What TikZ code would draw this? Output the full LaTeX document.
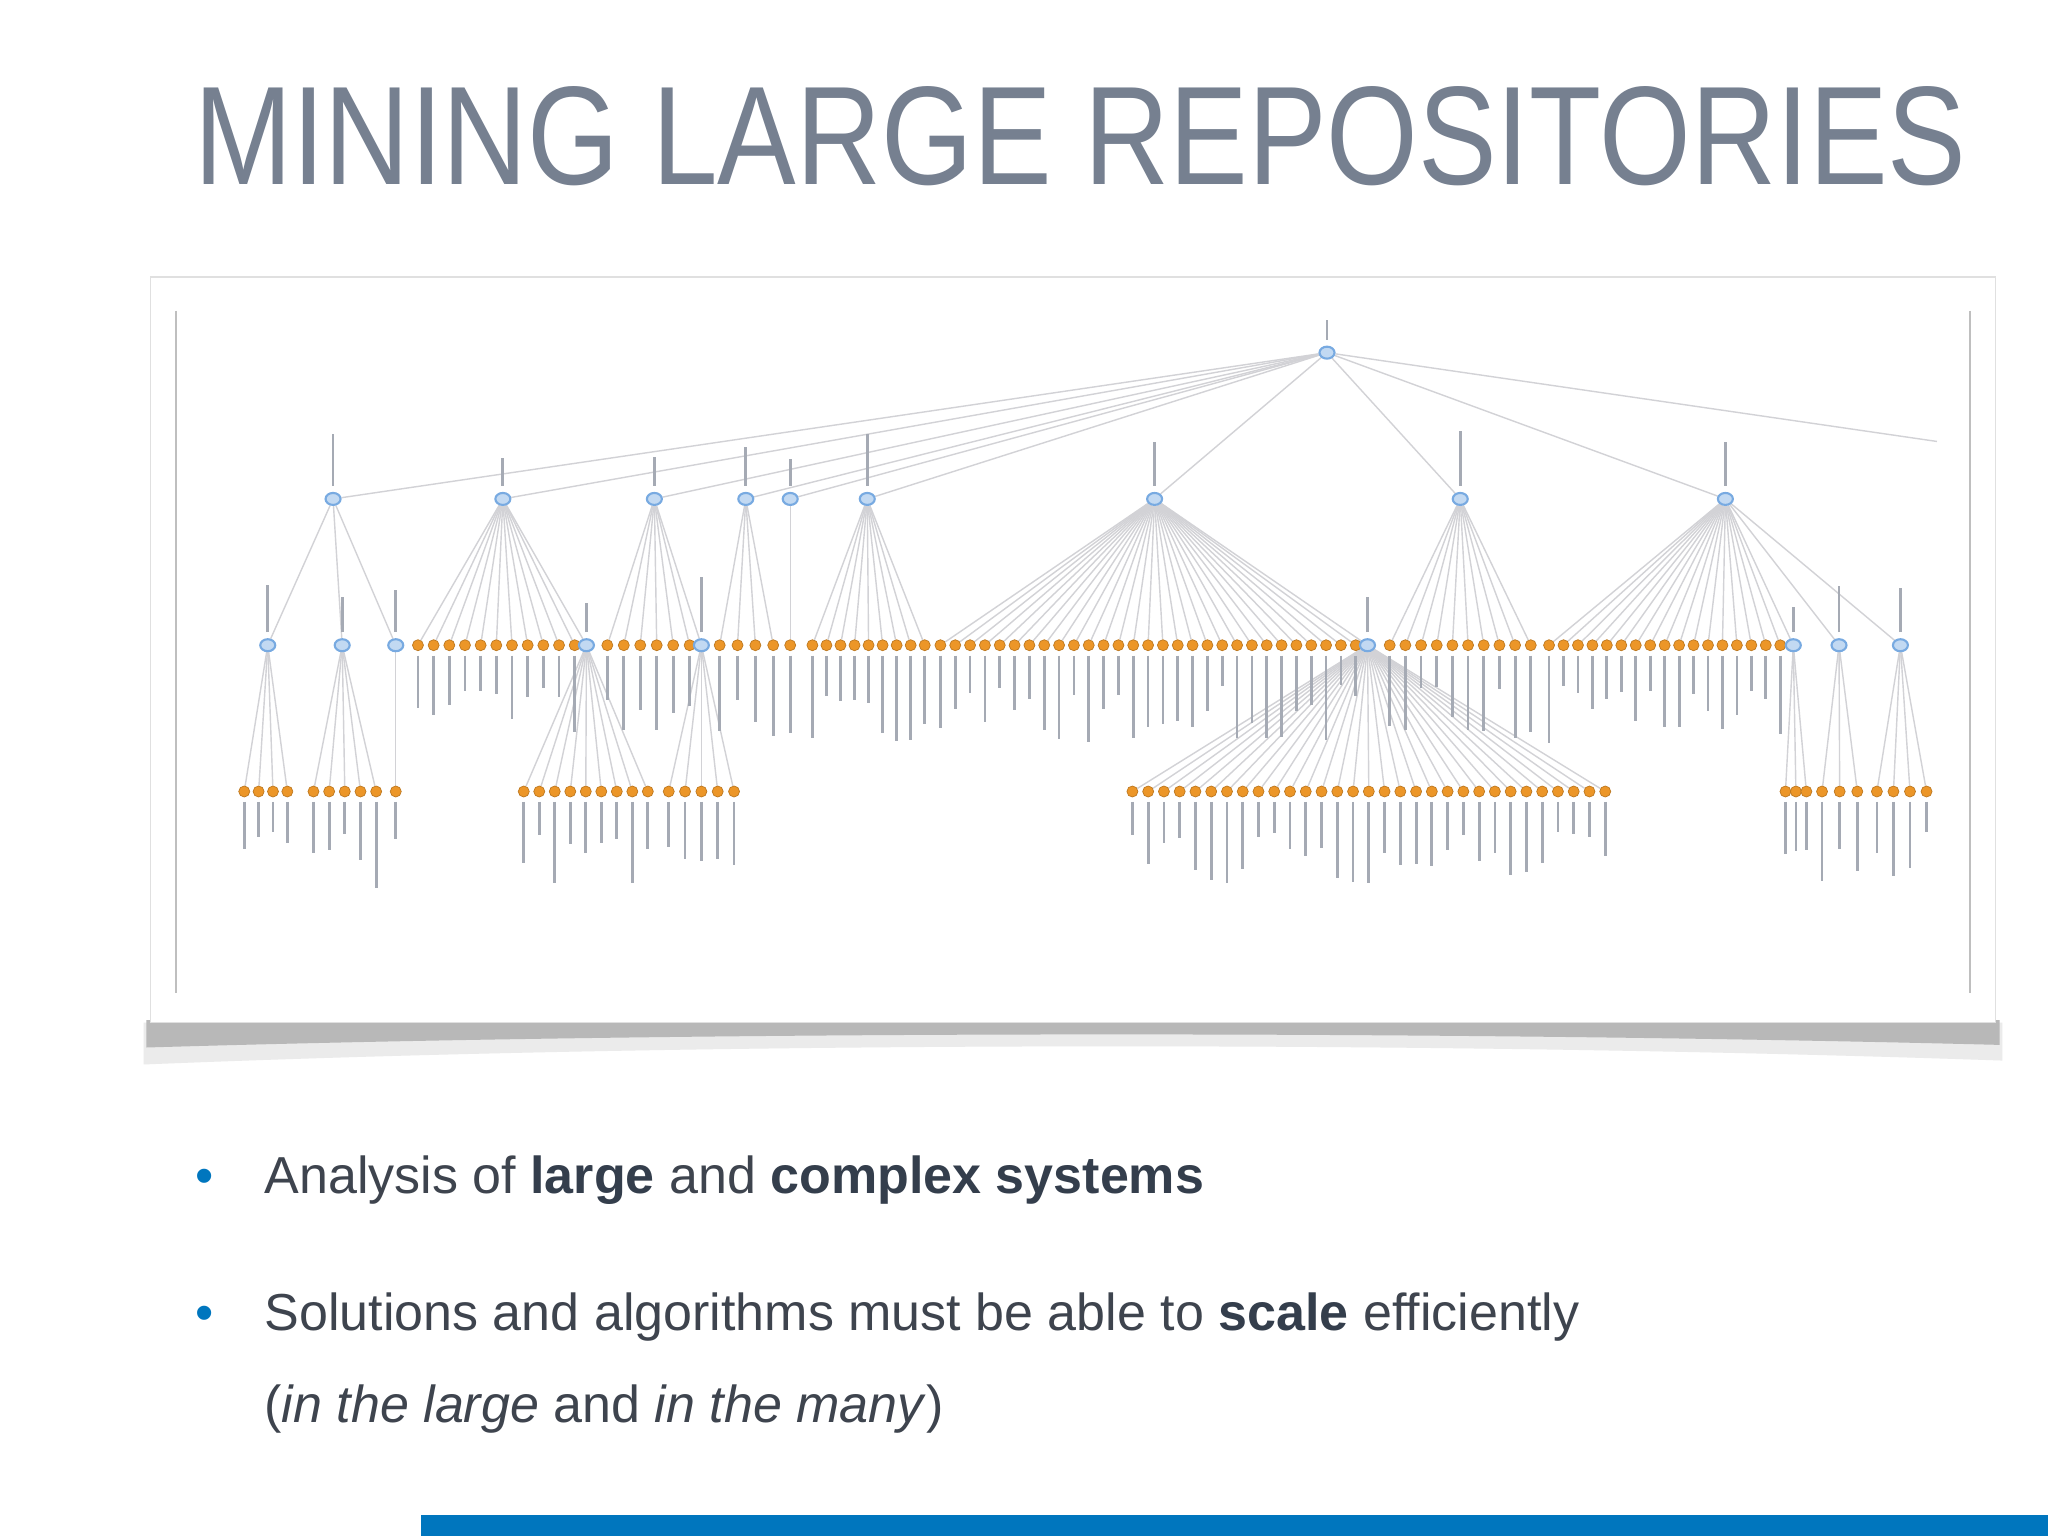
\documentclass[tikz,border=0pt]{standalone}
\usepackage{fontspec}
\setmainfont{Liberation Sans}
\usetikzlibrary{backgrounds,shapes.geometric}
\pgfdeclarelayer{edges}
\pgfsetlayers{background,edges,main}
\definecolor{titlegray}{RGB}{118,128,144}
\definecolor{txtgray}{RGB}{62,68,78}
\definecolor{boldgray}{RGB}{52,62,76}
\definecolor{kblue}{RGB}{0,118,190}
\definecolor{edgegray}{RGB}{210,210,214}
\definecolor{lblgray}{RGB}{165,170,180}
\definecolor{dotorange}{RGB}{236,150,40}
\definecolor{nodeblue}{RGB}{120,170,225}
\tikzset{
  odot/.style={circle,fill=dotorange,draw=dotorange!80!black,line width=0.2pt,inner sep=0pt,minimum size=0.11cm},
  bnode/.style={ellipse,fill=nodeblue!45,draw=nodeblue,line width=0.6pt,inner sep=0pt,minimum width=0.15cm,minimum height=0.12cm},
  edge/.style={draw=edgegray,line width=0.4pt},
  lbl/.style={draw=lblgray,line width=0.8pt},
}
\pgfmathsetseed{7}
\newcommand\myfan[6]{%
  \foreach \i in {1,...,#5}{%
    \pgfmathsetmacro\xx{#3+(\i-1)*(#4-#3)/max(#5-1,1)}
    \node[odot] (#2-\i) at (\xx,#6) {};
    \begin{pgfonlayer}{edges}\draw[edge] (#1) -- (#2-\i);\end{pgfonlayer}
    \pgfmathsetmacro\LL{22+rnd*45}
    \draw[lbl] (\xx,#6+8) -- (\xx,#6+8+\LL);
  }}
\newcommand\mybn[4]{%
  \node[bnode] (#1) at (#2,#3) {};
  \begin{pgfonlayer}{edges}\draw[edge] (#4) -- (#1);\end{pgfonlayer}
  \pgfmathsetmacro\LL{18+rnd*25}
  \draw[lbl] (#2,#3-10) -- (#2,#3-10-\LL);}
\begin{document}
\begin{tikzpicture}[x=0.01306cm,y=-0.01306cm]
\useasboundingbox (0,0) rectangle (1568,1176);
\begin{pgfonlayer}{background}
\fill[white] (0,0) rectangle (1568,1176);
\fill[black!8] (110,783) -- (1533,783) -- (1533,812) .. controls (1100,797) and (550,797) .. (110,815) -- cycle;
\fill[black!28] (112,781) -- (1531,781) -- (1531,800) .. controls (1100,789) and (550,789) .. (112,802) -- cycle;
\filldraw[fill=white,draw=black!12] (115,212) rectangle (1528,783);
\draw[black!25,line width=0.6pt] (135,238) -- (135,760);
\draw[black!25,line width=0.6pt] (1508,238) -- (1508,760);
\end{pgfonlayer}
\node[anchor=south west,inner sep=0pt,text=titlegray] (title) at (148,143)
  {\resizebox{17.72cm}{0.98cm}{MINING LARGE REPOSITORIES}};
\node[bnode] (root) at (1016,270) {};
\draw[lbl] (1016,260) -- (1016,245);
\coordinate (off) at (1483,338);
\begin{pgfonlayer}{edges}\draw[edge] (root) -- (off);\end{pgfonlayer}
\mybn{A}{255}{382}{root}
\mybn{B}{385}{382}{root}
\mybn{C}{501}{382}{root}
\mybn{D}{571}{382}{root}
\mybn{E}{605}{382}{root}
\mybn{F}{664}{382}{root}
\mybn{G}{884}{382}{root}
\mybn{H}{1118}{382}{root}
\mybn{I}{1321}{382}{root}
\mybn{A1}{205}{494}{A}
\mybn{A2}{262}{494}{A}
\mybn{A3}{303}{494}{A}
\myfan{B}{b}{320}{440}{11}{494}
\mybn{B1}{449}{494}{B}
\myfan{C}{c}{465}{528}{6}{494}
\mybn{C1}{537}{494}{C}
\myfan{D}{d}{551}{592}{4}{494}
\myfan{E}{e}{605}{605}{1}{494}
\myfan{F}{f}{622}{708}{9}{494}
\myfan{G}{g}{720}{1038}{29}{494}
\mybn{G1}{1047}{494}{G}
\myfan{H}{h}{1064}{1172}{10}{494}
\myfan{I}{i}{1186}{1363}{17}{494}
\mybn{I1}{1373}{494}{I}
\mybn{I2}{1408}{494}{I}
\mybn{I3}{1455}{494}{I}
\myfan{A1}{aa}{187}{220}{4}{606}
\myfan{A2}{ab}{240}{288}{5}{606}
\myfan{A3}{ac}{303}{303}{1}{606}
\myfan{B1}{ba}{401}{496}{9}{606}
\myfan{C1}{ca}{512}{562}{5}{606}
\myfan{G1}{ga}{867}{1229}{31}{606}
\myfan{I1}{ia}{1367}{1383}{3}{606}
\myfan{I2}{ib}{1395}{1422}{3}{606}
\myfan{I3}{ic}{1437}{1475}{4}{606}
\begin{scope}[every node/.style={anchor=base west,inner sep=0pt,text=txtgray,font=\fontsize{14.8pt}{18pt}\selectfont}]
\node[text=kblue] (b1) at (149,914) {\textbullet};
\node (t1) at (202,914) {Analysis of \textcolor{boldgray}{\textbf{large}} and \textcolor{boldgray}{\textbf{complex systems}}};
\node[text=kblue] (b2) at (149,1019) {\textbullet};
\node (t2) at (202,1019) {Solutions and algorithms must be able to \textcolor{boldgray}{\textbf{scale}} efficiently};
\node (t3) at (202,1089) {(\textit{in the large} and \textit{in the many})};
\end{scope}
\fill[kblue] (322,1160) rectangle (1568,1176);
\end{tikzpicture}
\end{document}
